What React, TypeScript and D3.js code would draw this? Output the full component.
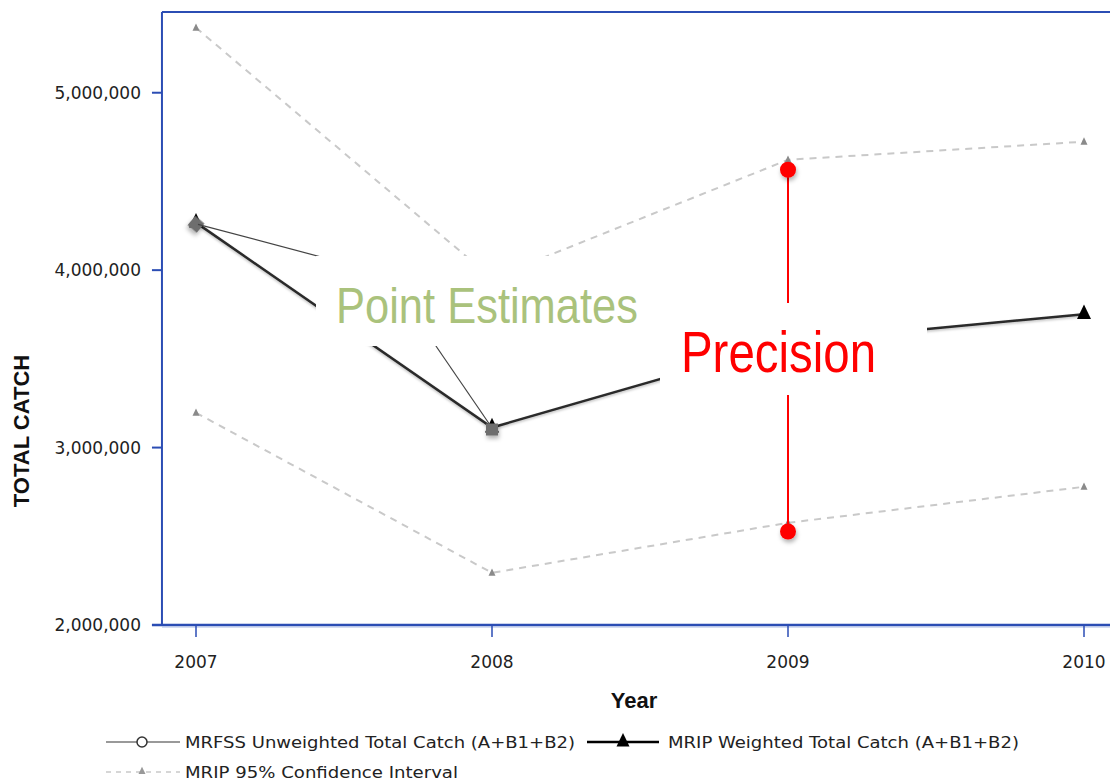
import React from 'react';
import * as d3 from 'd3';

// values
const years = [2007, 2008, 2009, 2010];
const mripWeighted = [4268000, 3113000, 3594000, 3752000];
const ciUpper = [5366000, 3955000, 4622000, 4724000];
const ciLower = [3196000, 2294000, 2576000, 2779000];
const yTicks = [2000000, 3000000, 4000000, 5000000];

// annotation points
const estimateYears = [2007, 2008];
const estimateValues = [4258000, 3113000];
const precisionYear = 2009;
const precisionValues = [4566000, 2527000];

const legendItems = [
  'MRFSS Unweighted Total Catch (A+B1+B2)',
  'MRIP Weighted Total Catch (A+B1+B2)',
  'MRIP 95% Confidence Interval',
];

const W = 1110;
const H = 782;
const BLUE = '#2b4db4';
const TICK_FONT = "'DejaVu Sans', Verdana, sans-serif";
const SANS = "'Liberation Sans', Arial, sans-serif";

export default function App() {
  const x = d3.scaleLinear().domain([2007, 2010]).range([196, 1084]);
  const y = d3.scaleLinear().domain([2000000, 5455000]).range([625, 12]);
  const left = x(2006.885);
  const right = x(2010.115);

  const line = d3
    .line<number>()
    .x((_, i) => x(years[i]))
    .y((d) => y(d));

  const tri = (cx: number, cy: number, s: number) =>
    `M${cx},${cy - s * 0.62}L${cx + s / 2},${cy + s * 0.42}L${cx - s / 2},${cy + s * 0.42}Z`;

  const fmt = d3.format(',');

  return (
    <div style={{ position: 'absolute', left: 0, top: 0 }}>
      <svg width={W} height={H} style={{ display: 'block', background: '#fff' }}>
        <defs>
          <filter id="shadow" x="-60%" y="-60%" width="220%" height="220%">
            <feDropShadow dx="1" dy="3" stdDeviation="2" floodColor="#000" floodOpacity="0.3" />
          </filter>
          <filter id="lineShadow" x="-10%" y="-10%" width="120%" height="120%">
            <feDropShadow dx="0" dy="1.5" stdDeviation="1" floodColor="#000" floodOpacity="0.25" />
          </filter>
        </defs>

        {/* confidence interval */}
        {[ciUpper, ciLower].map((s, k) => (
          <g key={k}>
            <path d={line(s) || ''} fill="none" stroke="#c9c9c9" strokeWidth={2} strokeDasharray="7,6" />
            {s.map((v, i) => (
              <path key={i} d={tri(x(years[i]), y(v), 7)} fill="#8a8a8a" />
            ))}
          </g>
        ))}

        {/* MRIP weighted */}
        <path d={line(mripWeighted) || ''} fill="none" stroke="#2a2a2a" strokeWidth={2.5} filter="url(#lineShadow)" />
        {mripWeighted.map((v, i) => (
          <path key={i} d={tri(x(years[i]), y(v) - 1, 14)} fill="#000" />
        ))}

        {/* point estimate markers */}
        {estimateYears.map((yr, i) =>
          i === 0 ? (
            <rect
              key={i}
              x={x(yr) - 6}
              y={y(estimateValues[i]) - 6}
              width={12}
              height={12}
              fill="#6e6e6e"
              transform={`rotate(40 ${x(yr)} ${y(estimateValues[i])})`}
              filter="url(#shadow)"
            />
          ) : (
            <rect
              key={i}
              x={x(yr) - 6}
              y={y(estimateValues[i]) - 4}
              width={12}
              height={12}
              fill="#6e6e6e"
              filter="url(#shadow)"
            />
          )
        )}

        {/* leader lines */}
        <line x1={x(2007) + 2} y1={y(estimateValues[0])} x2={340} y2={262} stroke="#444" strokeWidth={1.2} />
        <line x1={x(2008) - 3} y1={y(estimateValues[1]) - 4} x2={425} y2={330} stroke="#444" strokeWidth={1.2} />

        {/* precision */}
        <line
          x1={x(precisionYear)}
          x2={x(precisionYear)}
          y1={y(precisionValues[0])}
          y2={y(precisionValues[1])}
          stroke="#ff0000"
          strokeWidth={2}
        />
        {precisionValues.map((v, i) => (
          <circle key={i} cx={x(precisionYear)} cy={y(v)} r={8} fill="#ff0000" filter="url(#shadow)" />
        ))}

        {/* callout boxes */}
        <rect x={316} y={256} width={334} height={90} fill="#fff" />
        <rect x={660} y={303} width={267} height={92} fill="#fff" />
        <text x={336} y={323} fontFamily={SANS} fontSize={50} fill="#aac27c" textLength={302} lengthAdjust="spacingAndGlyphs">
          Point Estimates
        </text>
        <text x={681} y={372} fontFamily={SANS} fontSize={57} fill="#ff0000" textLength={195} lengthAdjust="spacingAndGlyphs">
          Precision
        </text>

        {/* frame */}
        <line x1={left} x2={left} y1={12} y2={625} stroke={BLUE} strokeWidth={2} />
        <line x1={left} x2={right} y1={12} y2={12} stroke={BLUE} strokeWidth={2} />
        <line x1={right} x2={right} y1={12} y2={625} stroke={BLUE} strokeWidth={2} />
        <line x1={left - 10} x2={right} y1={625} y2={625} stroke={BLUE} strokeWidth={2.5} />
        <line x1={left} x2={right} y1={627} y2={627} stroke="#a9bbe6" strokeWidth={1} />

        {/* y axis */}
        {yTicks.map((t) => (
          <g key={t}>
            <line x1={left - 10} x2={left} y1={y(t)} y2={y(t)} stroke={BLUE} strokeWidth={2} />
            <text x={141} y={y(t) + 6} textAnchor="end" fontFamily={TICK_FONT} fontSize={17} fill="#222">
              {fmt(t)}
            </text>
          </g>
        ))}
        <text
          transform={`translate(29,431) rotate(-90)`}
          textAnchor="middle"
          fontFamily={SANS}
          fontWeight="bold"
          fontSize={22}
          fill="#111"
        >
          TOTAL CATCH
        </text>

        {/* x axis */}
        {years.map((yr) => (
          <g key={yr}>
            <line x1={x(yr)} x2={x(yr)} y1={625} y2={637} stroke={BLUE} strokeWidth={1.5} />
            <text x={x(yr)} y={668} textAnchor="middle" fontFamily={TICK_FONT} fontSize={17} fill="#222">
              {yr}
            </text>
          </g>
        ))}
        <text x={634} y={708} textAnchor="middle" fontFamily={SANS} fontWeight="bold" fontSize={22} fill="#111">
          Year
        </text>

        {/* legend */}
        <g fontFamily={TICK_FONT} fontSize={15} fill="#222">
          <line x1={106} x2={180} y1={742} y2={742} stroke="#777" strokeWidth={1.5} />
          <circle cx={142} cy={742} r={5} fill="#fff" stroke="#333" strokeWidth={1.5} />
          <text x={185} y={748} textLength={390} lengthAdjust="spacingAndGlyphs">{legendItems[0]}</text>

          <line x1={587} x2={659} y1={742} y2={742} stroke="#000" strokeWidth={2.5} />
          <path d={tri(623, 741, 13)} fill="#000" />
          <text x={668} y={748} textLength={351} lengthAdjust="spacingAndGlyphs">{legendItems[1]}</text>

          <line x1={106} x2={180} y1={772} y2={772} stroke="#c9c9c9" strokeWidth={1.5} strokeDasharray="5,5" />
          <path d={tri(142, 771, 7)} fill="#999" />
          <text x={185} y={778} textLength={273} lengthAdjust="spacingAndGlyphs">{legendItems[2]}</text>
        </g>
      </svg>
    </div>
  );
}
